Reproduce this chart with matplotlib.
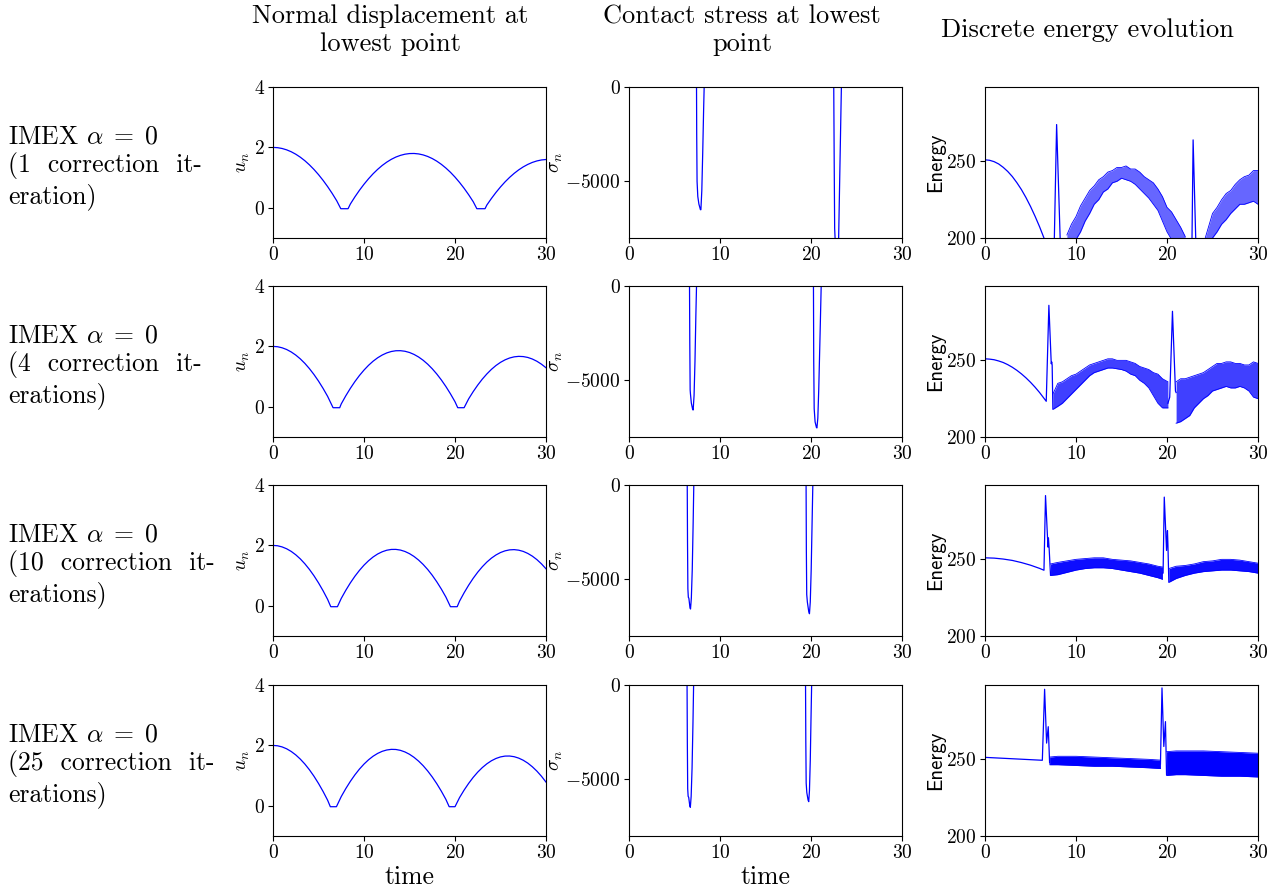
import matplotlib
matplotlib.use("Agg")
import matplotlib.pyplot as plt

plt.rcParams['font.family'] = 'cmr10'
plt.rcParams['mathtext.fontset'] = 'cm'
plt.rcParams['axes.formatter.use_mathtext'] = True

# run labels (one per row)
row_labels = [
    "IMEX $\\alpha\\;=\\;0$\n(1  correction  it-\neration)",
    "IMEX $\\alpha\\;=\\;0$\n(4  correction  it-\nerations)",
    "IMEX $\\alpha\\;=\\;0$\n(10  correction  it-\nerations)",
    "IMEX $\\alpha\\;=\\;0$\n(25  correction  it-\nerations)",
]
col_titles = ["Normal displacement at\nlowest point",
              "Contact stress at lowest\npoint",
              "Discrete energy evolution"]

# normal displacement u_n at lowest point
t_u1 = [0, 0.5, 1, 1.5, 2, 2.5, 3, 3.5, 4, 4.5, 5, 5.5, 6, 6.5, 7, 7.45, 8.25, 8.5, 9, 9.5, 10,
        10.5, 11, 11.5, 12, 12.5, 13, 13.5, 14, 14.5, 15, 15.5, 16, 16.5, 17, 17.5, 18, 18.5, 19,
        19.5, 20, 20.5, 21, 21.5, 22, 22.4, 23.3, 23.5, 24, 24.5, 25, 25.5, 26, 26.5, 27, 27.5,
        28, 28.5, 29, 29.5, 30]
u_1 = [2.00, 1.991, 1.964, 1.919, 1.856, 1.775, 1.676, 1.559, 1.423, 1.270, 1.099, 0.910, 0.703,
       0.478, 0.234, -0.03, -0.03, 0.125, 0.362, 0.580, 0.780, 0.962, 1.127, 1.273, 1.402, 1.512,
       1.605, 1.680, 1.736, 1.775, 1.796, 1.799, 1.784, 1.751, 1.700, 1.631, 1.544, 1.439, 1.316,
       1.176, 1.017, 0.840, 0.646, 0.433, 0.203, -0.03, -0.03, 0.092, 0.308, 0.508, 0.691, 0.858,
       1.007, 1.140, 1.256, 1.355, 1.437, 1.503, 1.552, 1.584, 1.599]
t_u2 = [0, 0.5, 1, 1.5, 2, 2.5, 3, 3.5, 4, 4.5, 5, 5.5, 6, 6.6, 7.33, 7.5, 8, 8.5, 9, 9.5, 10,
        10.5, 11, 11.5, 12, 12.5, 13, 13.5, 14, 14.5, 15, 15.5, 16, 16.5, 17, 17.5, 18, 18.5, 19,
        19.5, 20, 20.3, 21.0, 21.5, 22, 22.5, 23, 23.5, 24, 24.5, 25, 25.5, 26, 26.5, 27, 27.5,
        28, 28.5, 29, 29.5, 30]
u_2 = [2.00, 1.989, 1.954, 1.897, 1.816, 1.713, 1.587, 1.438, 1.265, 1.070, 0.852, 0.611, 0.347,
       -0.03, -0.03, 0.096, 0.365, 0.611, 0.835, 1.037, 1.216, 1.374, 1.510, 1.623, 1.714, 1.784,
       1.831, 1.856, 1.858, 1.839, 1.798, 1.734, 1.649, 1.541, 1.411, 1.259, 1.085, 0.889, 0.671,
       0.430, 0.168, -0.03, -0.03, 0.263, 0.503, 0.720, 0.916, 1.088, 1.239, 1.367, 1.472, 1.555,
       1.616, 1.654, 1.670, 1.663, 1.634, 1.582, 1.508, 1.411, 1.293]
t_u3 = [0, 0.5, 1, 1.5, 2, 2.5, 3, 3.5, 4, 4.5, 5, 5.5, 6, 6.35, 7.08, 7.5, 8, 8.5, 9, 9.5, 10,
        10.5, 11, 11.5, 12, 12.5, 13, 13.5, 14, 14.5, 15, 15.5, 16, 16.5, 17, 17.5, 18, 18.5, 19,
        19.5, 20.24, 20.5, 21, 21.5, 22, 22.5, 23, 23.5, 24, 24.5, 25, 25.5, 26, 26.5, 27, 27.5,
        28, 28.5, 29, 29.5, 30]
u_3 = [2.00, 1.988, 1.950, 1.888, 1.802, 1.690, 1.554, 1.392, 1.206, 0.996, 0.760, 0.500, 0.214,
       -0.03, -0.03, 0.244, 0.513, 0.758, 0.978, 1.173, 1.345, 1.492, 1.616, 1.715, 1.789, 1.840,
       1.866, 1.868, 1.846, 1.799, 1.728, 1.633, 1.514, 1.370, 1.203, 1.011, 0.794, 0.554, 0.289,
       -0.03, -0.03, 0.154, 0.431, 0.683, 0.911, 1.114, 1.293, 1.448, 1.578, 1.683, 1.764, 1.820,
       1.852, 1.860, 1.842, 1.801, 1.734, 1.644, 1.529, 1.389, 1.225]
t_u4 = [0, 0.5, 1, 1.5, 2, 2.5, 3, 3.5, 4, 4.5, 5, 5.5, 6, 6.3, 6.97, 7.5, 8, 8.5, 9, 9.5, 10,
        10.5, 11, 11.5, 12, 12.5, 13, 13.5, 14, 14.5, 15, 15.5, 16, 16.5, 17, 17.5, 18, 18.5, 19,
        19.36, 20.0, 20.5, 21, 21.5, 22, 22.5, 23, 23.5, 24, 24.5, 25, 25.5, 26, 26.5, 27, 27.5,
        28, 28.5, 29, 29.5, 30]
u_4 = [2.00, 1.987, 1.950, 1.887, 1.798, 1.685, 1.546, 1.383, 1.194, 0.980, 0.740, 0.476, 0.186,
       -0.03, -0.03, 0.306, 0.570, 0.810, 1.025, 1.216, 1.382, 1.524, 1.642, 1.735, 1.804, 1.848,
       1.869, 1.865, 1.836, 1.783, 1.706, 1.604, 1.478, 1.328, 1.153, 0.954, 0.731, 0.483, 0.211,
       -0.03, -0.03, 0.272, 0.520, 0.743, 0.942, 1.116, 1.265, 1.390, 1.491, 1.567, 1.619, 1.646,
       1.648, 1.626, 1.579, 1.508, 1.413, 1.292, 1.148, 0.979, 0.785]

# contact stress sigma_n at lowest point
t_s1 = [0, 7.42, 7.44, 7.48, 7.56, 7.68, 7.85, 7.9, 8.0, 8.1, 8.2, 8.26,
        22.5, 22.55, 22.6, 22.7, 22.85, 23.0, 23.15, 23.3, 23.34, 30]
s_1 = [0, 0, -2500, -5000, -5800, -6200, -6500, -6500, -5500, -3500, -1200, 0,
       0, -4000, -7500, -8600, -9500, -9000, -5000, -1000, 0, 0]
t_s2 = [0, 6.65, 6.68, 6.72, 6.75, 6.85, 7.0, 7.05, 7.15, 7.25, 7.35, 7.42,
        20.27, 20.3, 20.35, 20.45, 20.6, 20.65, 20.75, 20.85, 21.0, 21.12, 30]
s_2 = [0, 0, -3000, -5500, -5700, -6200, -6550, -6570, -5800, -4000, -1500, 0,
       0, -4000, -6500, -7200, -7500, -7520, -7000, -5500, -2500, 0, 0]
t_s3 = [0, 6.4, 6.43, 6.47, 6.52, 6.58, 6.7, 6.76, 6.85, 6.95, 7.05, 7.12,
        19.46, 19.49, 19.53, 19.6, 19.75, 19.83, 19.92, 20.02, 20.12, 20.2, 30]
s_3 = [0, 0, -3000, -5500, -5950, -6000, -6500, -6570, -6000, -4500, -2000, 0,
       0, -3500, -5800, -6200, -6700, -6820, -6200, -4500, -2000, 0, 0]
t_s4 = [0, 6.38, 6.41, 6.45, 6.5, 6.56, 6.68, 6.74, 6.83, 6.93, 7.03, 7.1,
        19.4, 19.43, 19.47, 19.54, 19.68, 19.75, 19.83, 19.92, 20.0, 20.07, 30]
s_4 = [0, 0, -3000, -5500, -5900, -5950, -6400, -6480, -5900, -4400, -2000, 0,
       0, -3000, -5200, -5700, -6100, -6180, -5600, -4000, -1800, 0, 0]

# discrete energy: smooth pieces / impact spikes
e1_line = [([0, 0.5, 1, 1.5, 2, 2.5, 3, 3.5, 4, 4.5, 5, 5.5, 6, 6.5, 7, 7.57, 7.87, 8.31, 8.6],
            [251, 250.7, 249.8, 248.3, 246.1, 243.4, 240.1, 236.1, 231.6, 226.4, 220.6, 214.2,
             207.3, 199.7, 191.5, 185, 274, 190, 188]),
           ([22, 22.72, 22.87, 23.2, 23.8], [192, 185, 264, 190, 185])]
e2_line = [([0, 0.5, 1, 1.5, 2, 2.5, 3, 3.5, 4, 4.5, 5, 5.5, 6, 6.5, 6.73, 7.02, 7.28, 7.33, 7.38,
             7.46],
            [251, 250.8, 250.4, 249.6, 248.6, 247.2, 245.5, 243.5, 241.2, 238.6, 235.7, 232.5,
             229, 225.1, 223.3, 285.9, 247.8, 249, 247, 218.5]),
           ([20.1, 20.3, 20.6, 20.93, 21.0], [222, 226, 282, 230, 229])]
e3_line = [([0, 1, 2, 3, 4, 5, 6, 6.48, 6.65, 6.92, 6.97, 7.05, 7.2],
            [251, 250.8, 250.2, 249.3, 247.9, 246.2, 244.1, 242.9, 291.6, 258, 264, 257, 239.7]),
           ([19.5, 19.57, 19.7, 19.95, 20.05, 20.1, 20.2], [241, 241, 290.6, 255.8, 268.7, 260, 235.4])]
e4_line = [([0, 6.3, 6.55, 6.77, 6.95, 7.1], [251.3, 249.4, 295.7, 260.6, 271.3, 247.6]),
           ([19.28, 19.45, 19.65, 19.83, 19.95], [247, 296.6, 258.4, 274.6, 240])]

# discrete energy: envelope of the fast oscillation after each impact (time, low, high)
e1_band = [([9, 9.5, 10, 10.5, 11, 11.5, 12, 12.5, 13, 13.5, 14, 14.5, 15, 15.5, 16, 16.5, 17,
             17.5, 18, 18.5, 19, 19.5, 20, 20.5, 21, 21.5, 22],
            [190, 194, 199, 204, 211, 216, 222, 225, 230, 232, 236, 237, 239, 238, 237, 235, 232,
             229, 226, 222, 218, 211, 204, 199, 195, 189, 183],
            [202, 209, 214, 221, 226, 231, 234, 238, 240, 243, 244, 246, 246, 247, 245, 245, 243,
             240, 238, 236, 232, 227, 220, 217, 212, 207, 201]),
           ([24.2, 24.5, 25, 25.5, 26, 26.5, 27, 27.5, 28, 28.5, 29, 29.5, 30],
            [188, 192, 200, 204, 209, 212, 216, 219, 222, 222, 223, 224, 222],
            [200, 206, 216, 220, 225, 229, 231, 235, 238, 240, 241, 244, 244])]
e2_band = [([7.46, 8, 8.5, 9, 9.5, 10, 10.5, 11, 11.5, 12, 12.5, 13, 13.5, 14, 14.5, 15, 15.5, 16,
             16.5, 17, 17.5, 18, 18.5, 19, 19.5, 20.1],
            [218, 220, 222, 225, 228, 231, 234, 237, 240, 242, 243, 244, 245, 245, 244.5, 244, 243,
             241, 240, 237, 235, 232, 227, 222, 219, 219],
            [228, 235, 236, 238, 240, 241, 243, 245, 247, 248, 249, 250, 251, 251, 250, 250, 250,
             249, 248, 246, 245, 244, 242, 241, 238, 236]),
           ([21, 21.5, 22, 22.5, 23, 23.5, 24, 24.5, 25, 25.5, 26, 26.5, 27, 27.5, 28, 28.5, 29,
             29.5, 30],
            [209, 210, 212, 214, 219, 222, 225, 227, 230, 231, 232, 233, 232, 232, 233, 232, 230,
             226, 225],
            [236, 238, 238, 239, 240, 241, 242, 244, 246, 248, 248, 249, 249, 248, 248, 247, 247,
             249, 248])]
e3_band = [([7.2, 8, 9, 10, 11, 12, 13, 14, 15, 16, 17, 18, 19, 19.5],
            [239.5, 240, 241.5, 243, 244, 244.5, 244.5, 244, 243, 242, 241, 239.5, 238, 237],
            [247, 248, 249, 250, 250.5, 251, 251, 250, 249.5, 249, 248, 247, 245.5, 245]),
           ([20.2, 21, 22, 23, 24, 25, 26, 27, 28, 29, 30],
            [235, 237.5, 239.5, 241, 242, 242.5, 243, 243, 242.5, 242, 241],
            [244, 245.5, 246, 247, 248.5, 249, 250, 250, 249.5, 248.5, 247.5])]
e4_band = [([7.1, 8, 10, 12, 14, 16, 18, 19.28],
            [246.5, 246.5, 246, 245.5, 245.5, 245, 244.5, 244],
            [251.5, 252, 252, 251.5, 251, 250.5, 250, 249.5]),
           ([19.95, 21, 22, 24, 26, 28, 30],
            [239.5, 240, 240, 239.5, 239, 239, 238.5],
            [255, 255.5, 255.5, 255.5, 255, 254.5, 254])]

disp = [(t_u1, u_1), (t_u2, u_2), (t_u3, u_3), (t_u4, u_4)]
stress = [(t_s1, s_1), (t_s2, s_2), (t_s3, s_3), (t_s4, s_4)]
energy_lines = [e1_line, e2_line, e3_line, e4_line]
energy_bands = [e1_band, e2_band, e3_band, e4_band]
band_alpha = [0.6, 0.75, 0.95, 1.0]

W, H = 1280, 893
fig = plt.figure(figsize=(W / 100, H / 100), dpi=100)

col_x = [273, 629, 985]
row_top = [87, 286, 485, 685]
ax_w, ax_h = 273, 151
tick_fs = 14
lab_fs = 14
blue = '#0000ff'


def make_axes(x, y):
    ax = fig.add_axes([x / W, 1 - (y + ax_h) / H, ax_w / W, ax_h / H])
    ax.set_xlim(0, 30)
    ax.set_xticks([0, 10, 20, 30])
    ax.tick_params(labelsize=tick_fs, length=3.5, width=0.8, pad=2.5)
    for sp in ax.spines.values():
        sp.set_linewidth(0.8)
    return ax


for i in range(4):
    # displacement
    ax = make_axes(col_x[0], row_top[i])
    ax.plot(disp[i][0], disp[i][1], color=blue, lw=0.9)
    ax.set_ylim(-1, 4)
    ax.set_yticks([0, 2, 4])
    ax.set_ylabel('$u_n$', fontsize=lab_fs, labelpad=1)
    if i == 3:
        ax.set_xlabel('time', fontsize=18.5, labelpad=2)

    # contact stress
    ax = make_axes(col_x[1], row_top[i])
    ax.plot(stress[i][0], stress[i][1], color=blue, lw=0.9)
    ax.set_ylim(-8000, 0)
    ax.set_yticks([-5000, 0])
    ax.set_ylabel('$\\sigma_n$', fontsize=lab_fs, labelpad=0)
    if i == 3:
        ax.set_xlabel('time', fontsize=18.5, labelpad=2)

    # energy
    ax = make_axes(col_x[2], row_top[i])
    for tt, ee in energy_lines[i]:
        ax.plot(tt, ee, color=blue, lw=0.9)
    for tt, lo, hi in energy_bands[i]:
        ax.fill_between(tt, lo, hi, color=blue, alpha=band_alpha[i], lw=0)
        ax.plot(tt, lo, color=blue, lw=0.6)
        ax.plot(tt, hi, color=blue, lw=0.6)
    ax.set_ylim(200, 298.5)
    ax.set_yticks([200, 250])
    ax.set_ylabel('Energy', fontsize=15, fontfamily='cmss10', labelpad=1)

    # run description on the left
    fig.text(8 / W, 1 - (row_top[i] + ax_h / 2 + 5) / H, row_labels[i],
             ha='left', va='center', fontsize=18.5, linespacing=1.2)

for cx, title in zip([390, 742, 1087], col_titles):
    fig.text(cx / W, 1 - 30 / H, title, ha='center', va='center',
             fontsize=19, linespacing=1.2)

fig.savefig('out.png', dpi=100)
